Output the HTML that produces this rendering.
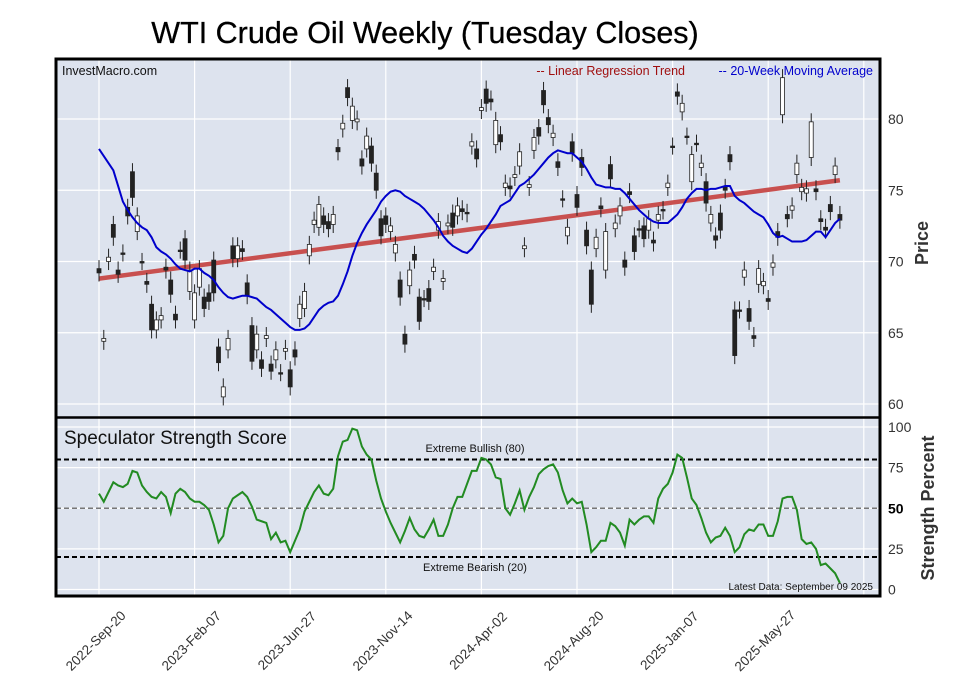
<!DOCTYPE html>
<html><head><meta charset="utf-8"><style>
body{margin:0;background:#fff;}
svg{display:block;font-family:"Liberation Sans",Arial,sans-serif;}
</style></head><body>
<svg id="chart" width="957" height="694" viewBox="0 0 957 694" xmlns="http://www.w3.org/2000/svg">
<text x="425" y="43" text-anchor="middle" font-size="30.5" fill="#000" stroke="#000" stroke-width="0.3">WTI Crude Oil Weekly (Tuesday Closes)</text>
<rect x="56" y="59" width="824" height="358" fill="#dde3ee"/>
<rect x="56" y="418" width="824" height="178" fill="#dde3ee"/>
<g id="grid"></g>
<g id="marks"></g>
<rect x="56" y="59" width="824" height="537" fill="none" stroke="#000" stroke-width="3"/>
<line x1="56" y1="417.5" x2="880" y2="417.5" stroke="#000" stroke-width="2.5"/>
<text x="62" y="75" font-size="12.5" fill="#111">InvestMacro.com</text>
<text x="685" y="75" text-anchor="end" font-size="12.5" fill="#a01010">-- Linear Regression Trend</text>
<text x="873" y="75" text-anchor="end" font-size="12.5" fill="#0000cc">-- 20-Week Moving Average</text>
<text x="64" y="444" font-size="19" fill="#111">Speculator Strength Score</text>
<text x="475" y="452" text-anchor="middle" font-size="11" fill="#111">Extreme Bullish (80)</text>
<text x="475" y="571" text-anchor="middle" font-size="11" fill="#111">Extreme Bearish (20)</text>
<text x="873" y="590" text-anchor="end" font-size="10" fill="#111">Latest Data: September 09 2025</text>
<text transform="translate(928,243) rotate(-90)" text-anchor="middle" font-size="18" font-weight="bold" fill="#333">Price</text>
<text transform="translate(934,508) rotate(-90)" text-anchor="middle" font-size="18" font-weight="bold" fill="#333">Strength Percent</text>
<g id="axes"></g>
</svg>
<script>
const priceTicks=[60,65,70,75,80];
const strengthTicks=[0,25,50,75,100];
const dateLabels=["2022-Sep-20","2023-Feb-07","2023-Jun-27","2023-Nov-14","2024-Apr-02","2024-Aug-20","2025-Jan-07","2025-May-27"];
const opens=[69.5,64.4,70.0,72.6,69.4,70.6,73.8,76.3,72.1,70.0,68.6,67.0,65.2,65.9,69.6,68.7,66.3,70.8,71.6,67.9,65.9,68.2,67.5,67.8,70.1,64.0,60.5,63.8,71.1,70.2,70.9,68.5,65.5,63.8,63.1,64.6,62.8,63.1,62.2,63.7,62.4,63.8,66.0,66.7,70.4,72.6,72.4,73.2,72.8,72.6,78.0,79.3,82.2,79.9,79.8,77.2,77.9,78.1,76.2,73.0,73.2,72.1,70.6,68.7,64.9,68.3,70.5,67.5,67.4,68.1,69.3,72.2,68.6,72.5,73.4,73.2,73.7,73.45,78.1,77.9,80.6,82.1,81.4,78.2,78.9,75.2,75.3,75.9,76.7,70.9,75.2,77.8,79.4,82.0,80.1,78.7,77.0,74.4,71.8,78.4,74.7,77.3,72.2,69.4,70.9,73.9,69.4,76.8,72.3,73.2,70.1,74.9,71.8,72.3,72.5,72.2,71.5,72.9,73.65,75.2,78.1,81.9,80.5,78.8,75.6,78.3,76.6,75.6,72.7,71.8,73.4,75.2,77.5,66.6,66.6,68.9,66.7,64.8,68.4,68.3,67.4,69.6,72.1,80.3,73.3,73.6,76.1,74.9,74.8,77.3,75.1,73.0,72.4,74.0,76.1,73.3];
const closes=[69.2,64.6,70.3,71.7,69.1,70.6,73.2,74.5,73.2,70.0,68.4,65.2,65.9,66.2,69.4,67.7,65.9,70.8,70.1,69.4,67.8,69.5,66.7,67.2,67.8,62.9,61.2,64.6,70.2,71.1,70.7,67.6,63.0,64.9,62.5,64.8,62.3,63.8,62.2,63.9,61.2,63.3,67.0,67.9,71.2,72.9,74.0,72.6,72.3,73.3,77.7,79.7,81.5,80.9,80.0,76.7,78.8,76.9,75.0,71.8,72.6,72.5,71.2,67.5,64.2,69.4,70.1,65.8,67.4,67.2,69.6,72.8,68.8,72.7,72.4,73.9,73.5,73.35,78.4,77.2,80.8,81.1,81.2,79.9,78.4,75.5,75.1,76.1,77.7,71.1,75.4,78.7,78.8,81.0,79.6,79.0,76.6,74.4,72.4,77.6,73.8,76.6,71.1,67.0,71.7,73.7,72.1,75.8,72.7,73.9,69.6,74.7,70.7,72.3,71.6,73.0,71.3,73.3,73.55,75.5,78.1,81.6,81.1,78.8,77.5,78.3,76.9,74.1,73.3,71.5,72.2,75.0,77.0,63.4,66.6,69.4,65.8,64.6,69.5,68.6,67.2,69.9,71.7,82.9,73.0,73.9,76.9,75.2,75.1,79.8,74.9,72.8,72.2,73.5,76.7,72.9];
const movingAvg=[77.9,77.4,76.9,76.4,75.3,74.2,73.6,73.1,72.7,72.4,72.2,71.7,71.0,70.7,70.5,70.2,69.8,69.5,69.4,69.3,69.5,69.5,69.2,69.0,68.7,68.2,67.8,67.5,67.4,67.5,67.6,67.6,67.5,67.4,67.1,66.8,66.6,66.3,66.0,65.7,65.4,65.2,65.2,65.3,65.6,66.1,66.6,66.9,67.1,67.2,67.6,68.4,69.3,70.4,71.3,72.0,72.6,73.1,73.6,74.2,74.6,74.9,75.0,74.9,74.6,74.4,74.2,74.0,73.7,73.3,72.9,72.4,71.8,71.4,71.1,70.9,70.7,70.6,70.9,71.4,71.9,72.3,72.8,73.3,73.9,74.1,74.3,74.8,75.3,75.5,75.8,76.1,76.5,76.9,77.3,77.6,77.8,77.7,77.6,77.6,77.3,77.0,76.5,75.9,75.4,75.3,75.2,75.2,75.1,75.1,74.8,74.4,74.0,73.6,73.3,73.0,72.8,72.7,72.7,72.7,73.0,73.3,73.8,74.4,74.8,75.1,75.1,75.0,75.1,75.1,75.2,75.3,75.3,74.6,74.3,74.1,73.8,73.5,73.3,73.1,72.6,72.0,71.7,71.8,71.6,71.4,71.4,71.4,71.5,71.8,72.1,72.1,71.7,72.2,72.7,73.0];
const strength=[59,54,60,66,64,63,65,73,72,64,60,57,56,60,57,47,59,62,60,56,54,54,52,49,40,29,33,50,56,58,60,57,51,43,42,41,31,35,29,30,23,30,37,48,54,60,64,59,58,62,82,91,92,99,98,88,83,80,67,56,48,41,35,29,36,44,37,33,32,37,43,33,33,40,50,57,57,65,73,73,81,80,77,69,68,50,46,53,61,49,57,63,71,74,76,77,72,61,53,56,53,54,40,23,26,30,30,41,39,35,27,43,40,43,45,45,41,56,62,65,72,83,81,69,56,52,44,35,29,32,33,38,33,23,26,34,37,36,40,40,33,33,42,56,57,57,49,31,28,29,25,15,16,13,10,4];
const trendEnds=[68.8,75.7];
const levels=[80,50,20];

const NS="http://www.w3.org/2000/svg";
const X0=99, WK=4.78;
function xW(i){return X0+i*WK;}
function yP(p){return 261.5-(p-70)*14.25;}
function yS(v){return 589.5-v*1.625;}
function mk(tag,attrs,parent){const e=document.createElementNS(NS,tag);for(const k in attrs)e.setAttribute(k,attrs[k]);parent.appendChild(e);return e;}
const grid=document.getElementById('grid'), marks=document.getElementById('marks'), axes=document.getElementById('axes');

for(let k=0;k<=8;k++){
  const x=xW(k*20);
  for(const [a,b] of [[59,417],[418,596]]){
    const l=mk('line',{x1:x,y1:a,x2:x,y2:b,stroke:'#fff','stroke-width':1.2},grid);
    
    
  }
}
priceTicks.forEach(p=>{
  const y=yP(p);
  const l=mk('line',{x1:56,y1:y,x2:880,y2:y,stroke:'#fff','stroke-width':1.2},grid);
  
  
  const t=mk('text',{x:888,y:y+5,'font-size':14,fill:'#333'},axes);
  t.textContent=p;
  
  
});
strengthTicks.forEach(v=>{
  const y=yS(v);
  const l=mk('line',{x1:56,y1:y,x2:880,y2:y,stroke:'#fff','stroke-width':1.2},grid);
  
  
  const t=mk('text',{x:888,y:y+5,'font-size':14,fill:v===50?'#000':'#333','font-weight':v===50?'bold':'normal'},axes);
  t.textContent=v;
  
  
});
dateLabels.forEach((d,k)=>{
  const x=xW(k*20);
  const t=mk('text',{transform:`translate(${x},${644}) rotate(-45)`,'text-anchor':'middle','font-size':13.5,fill:'#333'},axes);
  t.textContent=d;
  
  
});
const tr=mk('line',{x1:xW(0),y1:yP(trendEnds[0]),x2:xW(closes.length-1),y2:yP(trendEnds[1]),stroke:'#c8504f','stroke-width':4.5},marks);


closes.forEach((c,i)=>{
  const o=opens[i], x=xW(i);
  const hi=Math.max(o,c)+0.6, lo=Math.min(o,c)-0.6;
  const g=mk('g',{},marks);
  
  
  mk('line',{x1:x,y1:yP(hi),x2:x,y2:yP(lo),stroke:'#222','stroke-width':1},g);
  const top=yP(Math.max(o,c)), h=Math.max(1.5,yP(Math.min(o,c))-top);
  mk('rect',{x:x-2,y:top,width:4,height:h,fill:c>o?'#fff':'#222',stroke:'#222','stroke-width':0.8},g);
});
const ma=mk('polyline',{points:movingAvg.map((v,i)=>xW(i)+','+yP(v)).join(' '),fill:'none',stroke:'#0000cc','stroke-width':2},marks);


levels.forEach(v=>{
  const l=mk('line',{x1:56,y1:yS(v),x2:880,y2:yS(v),stroke:v===50?'#777':'#000','stroke-width':v===50?1.5:2,'stroke-dasharray':'5,3'},marks);
  
  
});
const sl=mk('polyline',{points:strength.map((v,i)=>xW(i)+','+yS(v)).join(' '),fill:'none',stroke:'#228b22','stroke-width':2},marks);


</script>
</body></html>
